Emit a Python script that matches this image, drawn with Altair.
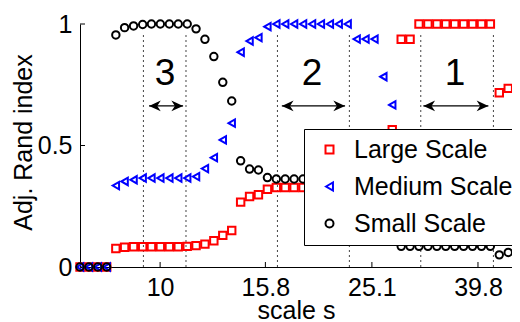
import altair as alt
import pandas as pd

# ---- data ----
scale_s = [7.06, 7.34, 7.63, 7.93, 8.25, 8.57, 8.91, 9.27, 9.63, 10.01,
           10.41, 10.82, 11.25, 11.69, 12.15, 12.63, 13.13, 13.65, 14.19, 14.75,
           15.33, 15.94, 16.57, 17.22, 17.90, 18.61, 19.35, 20.11, 20.91, 21.73,
           22.59, 23.49, 24.41, 25.38, 26.38, 27.42, 28.51, 29.63, 30.80, 32.02,
           33.29, 34.60, 35.97, 37.39, 38.87, 40.41, 42.00, 43.66, 45.39, 47.18]

large = [0, 0, 0, 0, 0.076, 0.081, 0.083, 0.083, 0.083, 0.083,
         0.083, 0.083, 0.085, 0.088, 0.094, 0.108, 0.13, 0.15, 0.267, 0.29,
         0.297, 0.32, 0.327, 0.327, 0.327, 0.327, 0.327, 0.327, 0.33, 0.33,
         0.33, 0.34, 0.36, 0.40, 0.46, 0.565, 0.937, 0.937, 1.0, 1.0,
         1.0, 1.0, 1.0, 1.0, 1.0, 1.0, 1.0, 0.717, 0.735, 0.725]

medium = [0, 0, 0, 0, 0.335, 0.352, 0.359, 0.366, 0.366, 0.366,
          0.366, 0.366, 0.366, 0.372, 0.405, 0.45, 0.523, 0.592, 0.884, 0.93,
          0.944, 0.989, 1.0, 1.0, 1.0, 1.0, 1.0, 1.0, 1.0, 1.0,
          1.0, 0.938, 0.938, 0.938, 0.783, 0.667, 0.45, 0.36, 0.30, 0.27,
          0.26, 0.25, 0.25, 0.25, 0.25, 0.25, 0.24, 0.24, 0.235, 0.23]

small = [0, 0, 0, 0, 0.955, 0.985, 0.992, 0.998, 1.0, 1.0,
         1.0, 1.0, 1.0, 0.98, 0.937, 0.866, 0.76, 0.683, 0.437, 0.403,
         0.399, 0.368, 0.362, 0.362, 0.362, 0.362, 0.362, 0.362, 0.36, 0.36,
         0.355, 0.34, 0.31, 0.26, 0.20, 0.15, 0.085, 0.085, 0.085, 0.085,
         0.085, 0.085, 0.085, 0.085, 0.085, 0.085, 0.085, 0.05, 0.06, 0.065]

series_names = ["Large Scale", "Medium Scale", "Small Scale"]
series_colors = ["#ff0000", "#0000ff", "#000000"]
series_shapes = ["square", "triangle-left", "circle"]

x_ticks = [10, 15.8, 25.1, 39.8]
y_ticks = [0, 0.5, 1]

region_bounds = [9.30, 11.19, 16.65, 22.76, 31.04, 42.56]
arrow_left = [9.53, 16.97, 31.39]
arrow_right = [11.05, 22.34, 41.64]
region_labels = ["3", "2", "1"]
region_label_x = [10.22, 19.36, 36.03]
arrow_y = 0.663
label_y = 0.75
bound_top = 0.96

X_DOMAIN = [7.06, 46.14]
FONT = "Liberation Sans"

# ---- tables ----
rows = []
for name, vals in zip(series_names, [large, medium, small]):
    for s, v in zip(scale_s, vals):
        rows.append({"s": s, "ari": v, "series": name})
df = pd.DataFrame(rows)

df_bounds = pd.DataFrame({"s": region_bounds, "ari": [0] * len(region_bounds),
                          "ari2": [bound_top] * len(region_bounds)})
df_arrows = pd.DataFrame({"s": arrow_left, "s2": arrow_right,
                          "ari": [arrow_y] * 3})
df_heads_l = pd.DataFrame({"s": arrow_left, "ari": [arrow_y] * 3})
df_heads_r = pd.DataFrame({"s": arrow_right, "ari": [arrow_y] * 3})
df_labels = pd.DataFrame({"s": region_label_x, "ari": [label_y] * 3,
                          "txt": region_labels})
df_xt = pd.DataFrame({"s": x_ticks})
df_yt = pd.DataFrame({"ari": y_ticks})

xscale = alt.Scale(type="log", domain=X_DOMAIN, nice=False)
yscale = alt.Scale(domain=[0, 1], nice=False, zero=False)

x_axis = alt.Axis(values=x_ticks, format="~g", title="scale s", labelPadding=8,
                  titleY=51, titleBaseline="alphabetic")
y_axis = alt.Axis(values=y_ticks, format="~g", title="Adj. Rand index",
                  labelPadding=8, titleX=-49, titleY=118,
                  titleBaseline="alphabetic")

X = lambda f="s": alt.X(f"{f}:Q", scale=xscale, axis=x_axis)
Y = lambda f="ari": alt.Y(f"{f}:Q", scale=yscale, axis=y_axis)

bounds = alt.Chart(df_bounds).mark_rule(
    color="#444444", strokeWidth=1, strokeDash=[2, 3]
).encode(x=X(), y=Y(), y2="ari2:Q")

legend = alt.Legend(title=None, orient="none", legendX=224, legendY=105,
                    fillColor="white", strokeColor="black", padding=8,
                    labelFont=FONT, labelFontSize=25, labelColor="black",
                    symbolOffset=5, labelOffset=12, rowPadding=11,
                    symbolStrokeWidth=2, symbolSize=64)

points = alt.Chart(df).mark_point(filled=False, strokeWidth=2, size=55, opacity=1).encode(
    x=X(), y=Y(),
    color=alt.Color("series:N", sort=series_names,
                    scale=alt.Scale(domain=series_names, range=series_colors),
                    legend=legend),
    shape=alt.Shape("series:N", sort=series_names,
                    scale=alt.Scale(domain=series_names, range=series_shapes),
                    legend=legend),
)

arrows = alt.Chart(df_arrows).mark_rule(color="black", strokeWidth=1.4).encode(
    x=X(), x2="s2:Q", y=Y())

head_l = alt.Chart(df_heads_l).mark_point(
    shape="M0,0L1,-0.45L0.7,0L1,0.45Z", size=550, filled=True,
    color="black", opacity=1
).encode(x=X(), y=Y())
head_r = alt.Chart(df_heads_r).mark_point(
    shape="M0,0L-1,-0.45L-0.7,0L-1,0.45Z", size=550, filled=True,
    color="black", opacity=1
).encode(x=X(), y=Y())

labels = alt.Chart(df_labels).mark_text(
    font=FONT, fontSize=37, color="black", baseline="alphabetic", align="center"
).encode(x=X(), y=Y(), text="txt:N")

xticks = alt.Chart(df_xt).mark_rule(color="black", strokeWidth=1).encode(
    x=X(), y=alt.value(243), y2=alt.value(238))
yticks = alt.Chart(df_yt).mark_rule(color="black", strokeWidth=1).encode(
    y=Y(), x=alt.value(0), x2=alt.value(5))

chart = alt.layer(bounds, xticks, yticks, arrows, head_l, head_r, labels, points).properties(
    width=432, height=243,
    autosize=alt.AutoSizeParams(type="none"),
    padding={"left": 72, "top": 16, "right": 0, "bottom": 55},
).configure_view(stroke=None).configure_axis(
    domainColor="black", domainWidth=1, ticks=False, grid=False,
    labelFont=FONT, labelFontSize=25, labelColor="black",
    titleFont=FONT, titleFontSize=25, titleFontWeight="normal", titleColor="black",
)

chart.save("out.html", embed_options={"renderer": "svg", "actions": False})
